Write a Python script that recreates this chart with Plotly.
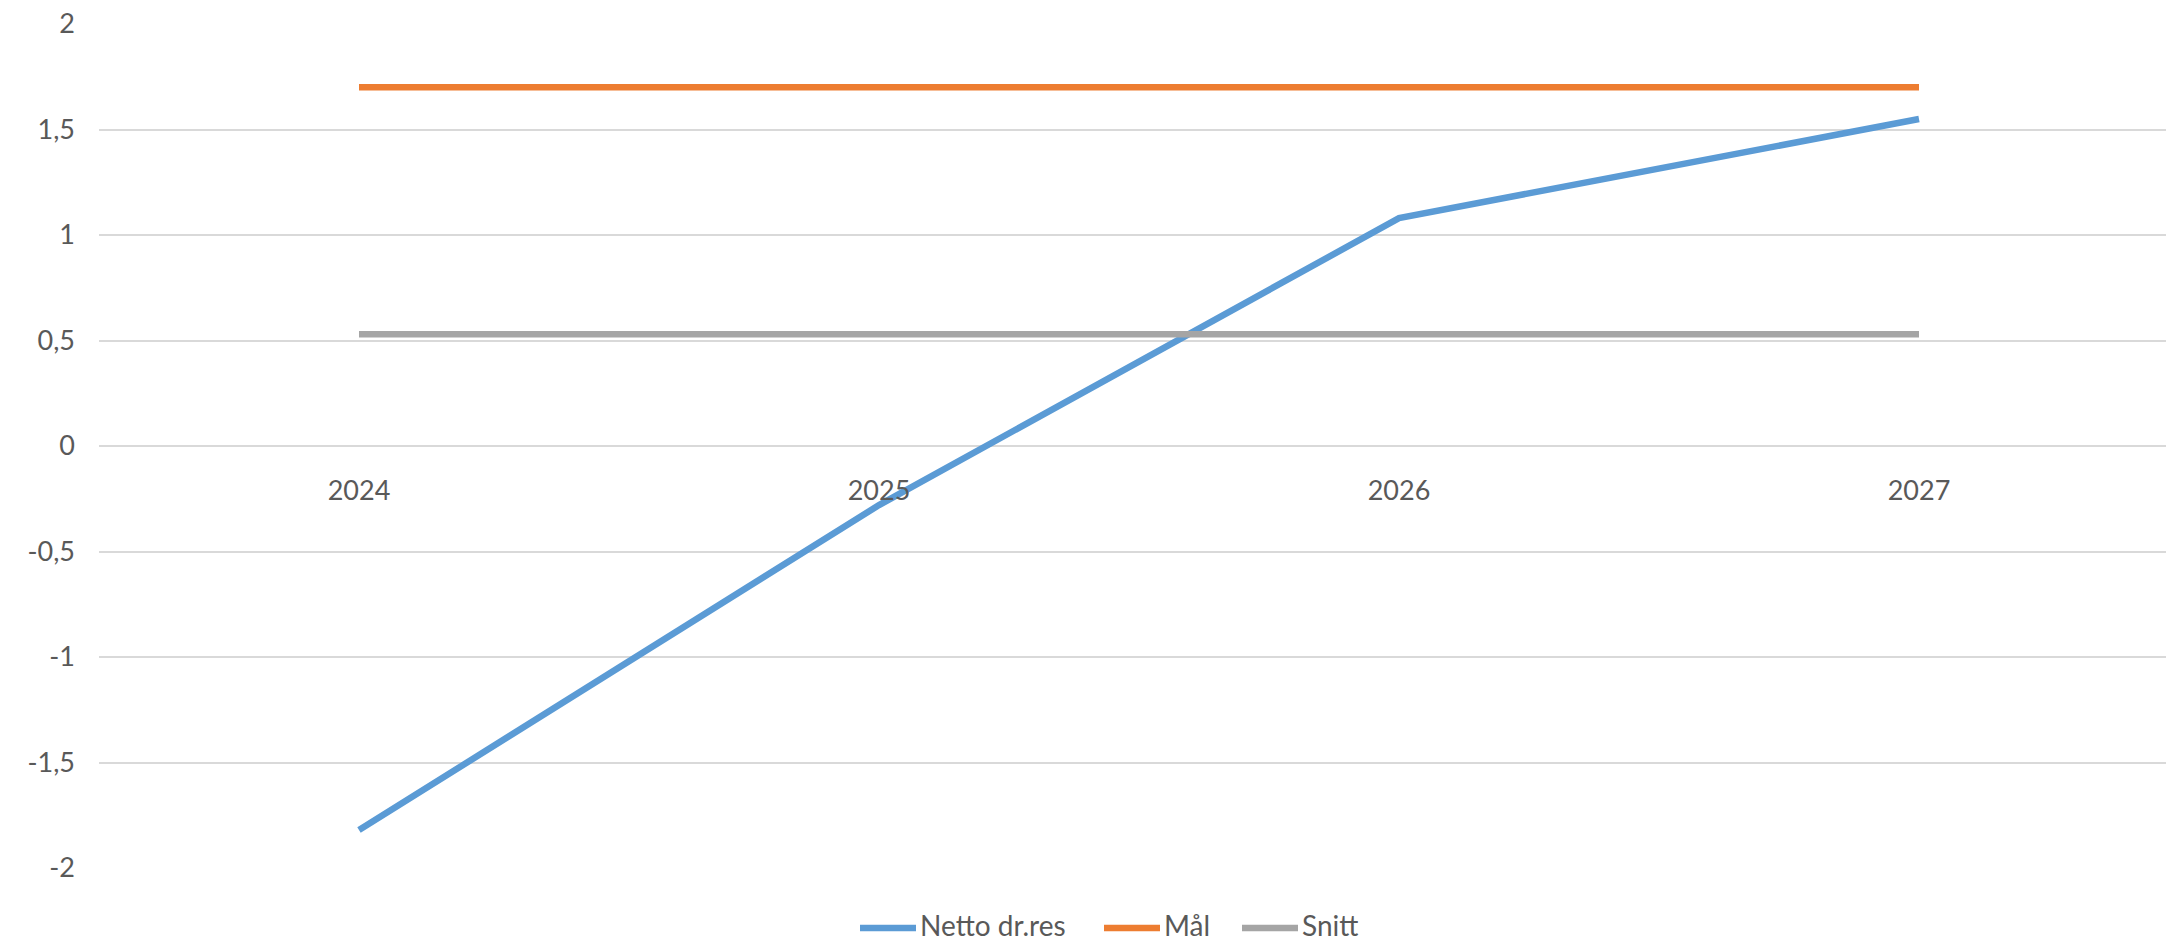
import plotly.graph_objects as go

# Data
years = ["2024", "2025", "2026", "2027"]
netto_dr_res = [-1.82, -0.28, 1.08, 1.55]
maal = [1.7, 1.7, 1.7, 1.7]
snitt = [0.53, 0.53, 0.53, 0.53]

series_names = ["Netto dr.res", "Mål", "Snitt"]

y_tickvals = [-2, -1.5, -1, -0.5, 0, 0.5, 1, 1.5, 2]
y_ticktext = ["-2", "-1,5", "-1", "-0,5", "0", "0,5", "1", "1,5", "2"]

BLUE = "#5B9BD5"
ORANGE = "#ED7D31"
GRAY = "#A5A5A5"
TEXT = "#595959"
GRID = "#D9D9D9"
FONT = "Lato, 'Open Sans', sans-serif"
colors = [BLUE, ORANGE, GRAY]

W, H = 2166, 943
ML, MR, MT, MB = 99, 0, 24, 75
plot_w = W - ML - MR
plot_h = H - MT - MB

fig = go.Figure()
for name, vals, color in zip(series_names, [netto_dr_res, maal, snitt], colors):
    fig.add_trace(go.Scatter(
        x=years, y=vals, name=name, mode="lines",
        line=dict(color=color, width=6.5),
        showlegend=False,
    ))

# Legend row below the plot: a short line sample followed by the series name
legend_line_y_px = 928
legend_text_y_px = 925
legend_sample_x_px = [860, 1104, 1242]
sample_len_px = 56
ly_line = (H - MB - legend_line_y_px) / plot_h
ly_text = (H - MB - legend_text_y_px) / plot_h
for name, color, x0_px in zip(series_names, colors, legend_sample_x_px):
    x0 = (x0_px - ML) / plot_w
    x1 = (x0_px + sample_len_px - ML) / plot_w
    fig.add_shape(type="line", xref="paper", yref="paper",
                  x0=x0, x1=x1, y0=ly_line, y1=ly_line,
                  line=dict(color=color, width=6.5))
    fig.add_annotation(xref="paper", yref="paper",
                       x=(x0_px + sample_len_px + 3 - ML) / plot_w, y=ly_text,
                       xanchor="left", yanchor="middle", showarrow=False,
                       borderpad=0,
                       text=name, font=dict(size=28, color=TEXT, family=FONT))

fig.update_layout(
    width=W, height=H,
    margin=dict(l=ML, r=MR, t=MT, b=MB, autoexpand=False),
    paper_bgcolor="white", plot_bgcolor="white",
    font=dict(family=FONT, color=TEXT, size=27),
    showlegend=False,
)

fig.update_xaxes(
    type="category",
    range=[-0.5, 3.475],
    anchor="free", position=0.5,
    showgrid=False, zeroline=False, showline=False,
    ticks="", ticklabelstandoff=26,
    tickfont=dict(size=27, color=TEXT, family=FONT),
)

fig.update_yaxes(
    range=[-2, 2],
    tickvals=y_tickvals, ticktext=y_ticktext,
    showgrid=True, gridcolor=GRID, gridwidth=2,
    zeroline=False, showline=False,
    ticks="", ticklabelstandoff=23,
    tickfont=dict(size=27, color=TEXT, family=FONT),
)

fig.write_html("out.html")
